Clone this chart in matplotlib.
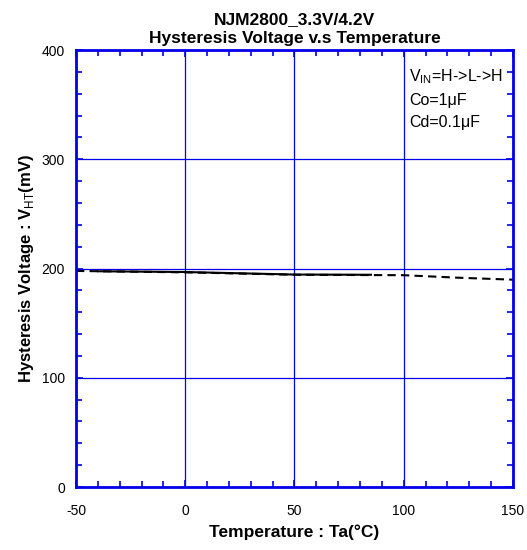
import matplotlib
matplotlib.use("Agg")
import matplotlib.pyplot as plt
from matplotlib.ticker import MultipleLocator

plt.rcParams['font.family'] = ['Liberation Sans', 'DejaVu Sans']
plt.rcParams['mathtext.fontset'] = 'custom'
plt.rcParams['mathtext.rm'] = 'Liberation Sans'
plt.rcParams['mathtext.bf'] = 'Liberation Sans:bold'
plt.rcParams['axes.unicode_minus'] = False

# dashed curve (full range)
temp_dash = [-50, 0, 50, 100, 125, 150]
vht_dash = [197.8, 196.5, 194.3, 193.9, 191.6, 189.8]

# solid curve (measured range)
temp_solid = [-40, 0, 50, 85]
vht_solid = [197.5, 196.8, 194.5, 194.3]

blue = '#0000ee'

fig = plt.figure(figsize=(5.27, 5.5), dpi=100)
ax = fig.add_axes([0.1442, 0.1145, 0.8292, 0.7945])

ax.plot(temp_dash, vht_dash, color='black', lw=1.5, ls=(0, (4, 2.5)))
ax.plot(temp_solid, vht_solid, color='black', lw=1.5)

ax.set_xlim(-50, 150)
ax.set_ylim(0, 400)
ax.xaxis.set_major_locator(MultipleLocator(50))
ax.xaxis.set_minor_locator(MultipleLocator(10))
ax.yaxis.set_major_locator(MultipleLocator(100))
ax.yaxis.set_minor_locator(MultipleLocator(20))
ax.grid(True, which='major', color=blue, lw=0.9)
for s in ax.spines.values():
    s.set_color(blue)
    s.set_linewidth(2)
ax.tick_params(which='both', direction='in', color=blue, top=True, right=True,
               labelsize=10)
ax.tick_params(which='major', length=5, width=1.2)
ax.tick_params(which='minor', length=4, width=1.2)
ax.tick_params(axis='x', pad=12)
ax.tick_params(axis='y', pad=8)

ax.set_xlabel("Temperature : Ta(°C)", fontsize=12.5, fontweight='bold', labelpad=5)
ax.set_ylabel("Hysteresis Voltage : V$_{\\mathrm{HT}}$(mV)", fontsize=12,
              fontweight='bold', labelpad=4)
ax.set_title("NJM2800_3.3V/4.2V\nHysteresis Voltage v.s Temperature",
             fontsize=12.5, fontweight='bold', pad=5, linespacing=1.3)

ax.text(0.763, 0.94, "V$_{\\mathrm{IN}}$=H->L->H", transform=ax.transAxes,
        fontsize=11.5, va='center')
ax.text(0.763, 0.885, "Co=1μF", transform=ax.transAxes, fontsize=11.5, va='center')
ax.text(0.763, 0.834, "Cd=0.1μF", transform=ax.transAxes, fontsize=11.5, va='center')

plt.savefig("out.png", dpi=100)
